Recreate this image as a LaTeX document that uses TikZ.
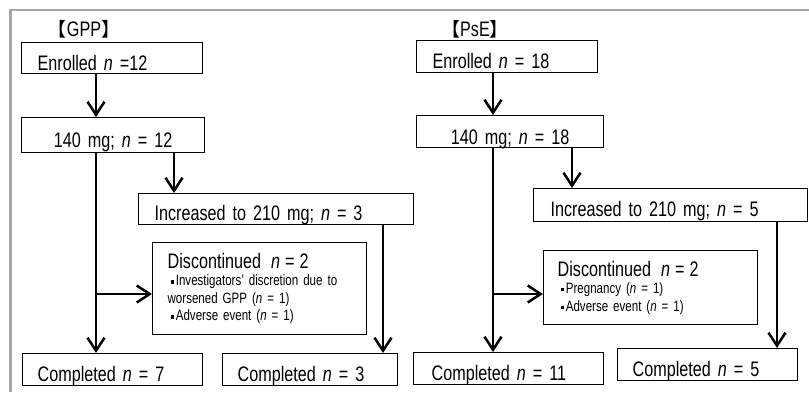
\documentclass[tikz,border=0pt]{standalone}
\usepackage{fontspec}
\setmainfont{Liberation Sans}[FakeStretch=0.77, WordSpace=0.7]
\newfontfamily\cjkfont{Noto Sans CJK JP}
\usepackage{tikz}
\usetikzlibrary{arrows.meta}
\newcommand{\sqdot}{\hspace*{3pt}\rule[2.4pt]{3.2pt}{3.2pt}\hspace{2pt}}
\tikzset{
    flowbox/.style={draw, line width=1.3pt, anchor=north west, align=left, inner ysep=0pt, font=\fontsize{21}{23}\selectfont},
    flowarrow/.style={line width=2.5pt, -{Straight Barb[length=13pt,width=17pt]}},
    grouptitle/.style={font=\fontsize{21}{23}\selectfont},
}

\begin{document}
\begin{tikzpicture}[x=1pt, y=-1pt]
\useasboundingbox (0,0) rectangle (809,392);
\draw[black!35, line width=2.5pt] (10.5,392) -- (10.5,10) -- (809,10);

\node[grouptitle] (titleA) at (84,29) {{\cjkfont\fontsize{19}{21}\selectfont 【}GPP{\cjkfont\fontsize{19}{21}\selectfont 】}};
\node[flowbox, inner xsep=16pt, text width=149pt, text height=28pt, text depth=3pt] (enrolled) at (21,42) {Enrolled \textit{n} =12};
\node[flowbox, align=center, inner xsep=2pt, text width=179pt, text height=30pt, text depth=5pt] (dose140) at (21,117) {140 mg; \textit{n} = 12};
\node[flowbox, inner xsep=16pt, text width=243pt, text height=27pt, text depth=4pt] (increased) at (138,193) {Increased to 210 mg; \textit{n} = 3};
\node[flowbox, inner xsep=15pt, text width=184pt, minimum height=92pt, font=\fontsize{15}{17.5}\selectfont] (discont) at (152,242) {{\fontsize{21}{21}\selectfont Discontinued\ \ \textit{n} = 2}\\ \sqdot Investigators' discretion due to\\ worsened GPP (\textit{n} = 1)\\ \sqdot Adverse event (\textit{n} = 1)};
\node[flowbox, inner xsep=15pt, text width=150pt, text height=28pt, text depth=4pt] (completedA) at (22,353) {Completed \textit{n} = 7};
\node[flowbox, inner xsep=15pt, text width=145pt, text height=28pt, text depth=4pt] (completedB) at (222,353) {Completed \textit{n} = 3};

\coordinate (colA) at (96,0);
\coordinate (colB) at (174,0);
\coordinate (colC) at (383,0);
\coordinate (splitA) at (96,294);
\draw[flowarrow] (enrolled.south -| colA) -- (dose140.north -| colA);
\draw[flowarrow] (dose140.south -| colA) -- (completedA.north -| colA);
\draw[flowarrow] (splitA) -- (splitA -| discont.west);
\draw[flowarrow] (dose140.south -| colB) -- (increased.north -| colB);
\draw[flowarrow] (increased.south -| colC) -- (completedB.north -| colC);

\node[grouptitle] (titleB) at (475,29) {{\cjkfont\fontsize{19}{21}\selectfont 【}PsE{\cjkfont\fontsize{19}{21}\selectfont 】}};
\node[flowbox, inner xsep=16pt, text width=149pt, text height=28pt, text depth=4pt] (enrolledB) at (416,40) {Enrolled \textit{n} = 18};
\node[flowbox, align=center, inner xsep=2pt, text width=183pt, text height=29pt, text depth=3pt] (dose140B) at (416,115) {140 mg; \textit{n} = 18};
\node[flowbox, inner xsep=17pt, text width=240pt, text height=28pt, text depth=5pt] (increasedB) at (533,188) {Increased to 210 mg; \textit{n} = 5};
\node[flowbox, inner xsep=14pt, text width=186pt, minimum height=74pt, font=\fontsize{15}{17.5}\selectfont] (discontB) at (543,250) {{\fontsize{21}{21}\selectfont Discontinued\ \ \textit{n} = 2}\\ \sqdot Pregnancy (\textit{n} = 1)\\ \sqdot Adverse event (\textit{n} = 1)};
\node[flowbox, inner xsep=18pt, text width=154pt, text height=28pt, text depth=4pt] (completedC) at (413,352) {Completed \textit{n} = 11};
\node[flowbox, inner xsep=15pt, text width=150pt, text height=28pt, text depth=4pt] (completedD) at (617,348) {Completed \textit{n} = 5};

\coordinate (colD) at (493,0);
\coordinate (colE) at (572,0);
\coordinate (colF) at (777,0);
\coordinate (splitB) at (493,294);
\draw[flowarrow] (enrolledB.south -| colD) -- (dose140B.north -| colD);
\draw[flowarrow] (dose140B.south -| colD) -- (completedC.north -| colD);
\draw[flowarrow] (splitB) -- (splitB -| discontB.west);
\draw[flowarrow] (dose140B.south -| colE) -- (increasedB.north -| colE);
\draw[flowarrow] (increasedB.south -| colF) -- (completedD.north -| colF);
\end{tikzpicture}
\end{document}
